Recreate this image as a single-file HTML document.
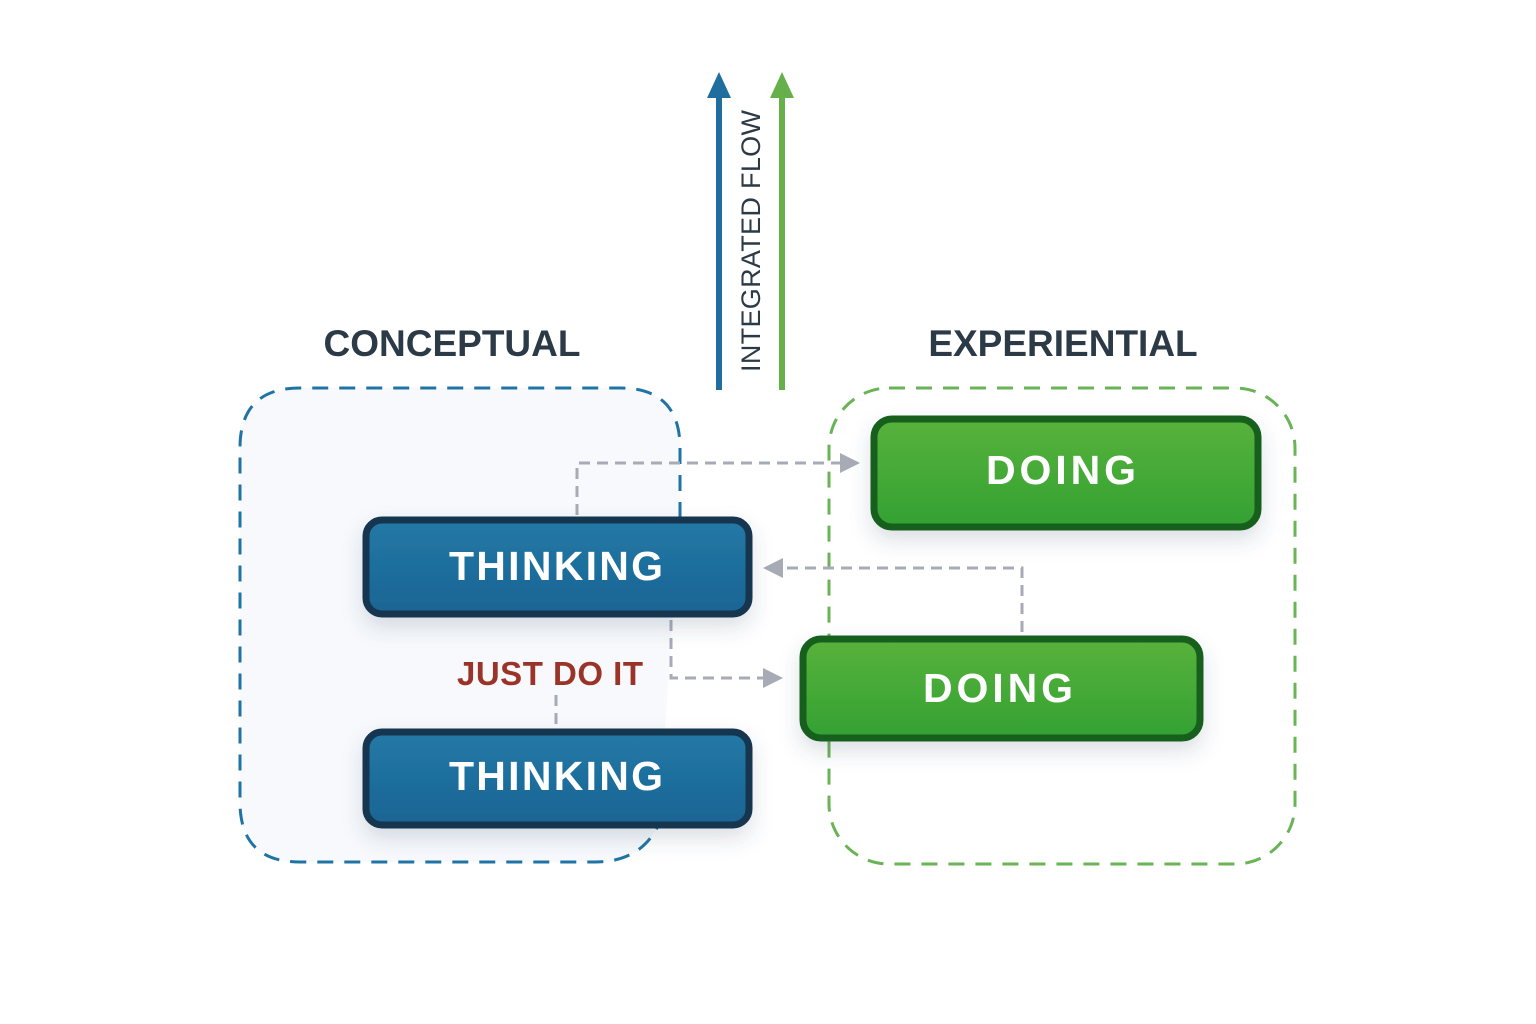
<!DOCTYPE html>
<html><head><meta charset="utf-8"><style>
html,body{margin:0;padding:0;background:#fff;}
svg{display:block;}
text{font-family:"Liberation Sans",sans-serif;font-weight:bold;}
</style></head><body>
<svg width="1536" height="1024" viewBox="0 0 1536 1024" xmlns="http://www.w3.org/2000/svg">
<defs>
<linearGradient id="bg" x1="0" y1="0" x2="0" y2="1"><stop offset="0" stop-color="#2279a6"/><stop offset="1" stop-color="#1b6494"/></linearGradient>
<linearGradient id="gg" x1="0" y1="0" x2="0" y2="1"><stop offset="0" stop-color="#58b23b"/><stop offset="1" stop-color="#33a133"/></linearGradient>
<filter id="sh" x="-20%" y="-30%" width="140%" height="170%"><feDropShadow dx="0" dy="10" stdDeviation="10" flood-color="#40506a" flood-opacity="0.18"/></filter>
</defs>
<rect width="1536" height="1024" fill="#fff"/>
<!-- conceptual region -->
<path d="M680,518 L680,448 Q680,388 620,388 L300,388 Q240,388 240,448 L240,802 Q240,862 300,862 L595,862 Q640,862 658,826 Z" fill="#f7f9fc" stroke="none"/>
<path d="M680,518 L680,448 Q680,388 620,388 L300,388 Q240,388 240,448 L240,802 Q240,862 300,862 L595,862 Q640,862 658,826" fill="none" stroke="#1f74a5" stroke-width="3" stroke-dasharray="16,11"/>
<!-- experiential region -->
<rect x="829" y="388" width="466" height="476" rx="60" fill="none" stroke="#6ab356" stroke-width="3" stroke-dasharray="16,11"/>
<!-- labels -->
<text x="452" y="356" font-size="37" fill="#2b3a46" text-anchor="middle">CONCEPTUAL</text>
<text x="1063" y="356" font-size="37" fill="#2b3a46" text-anchor="middle">EXPERIENTIAL</text>
<!-- arrows -->
<line x1="719" y1="390" x2="719" y2="95" stroke="#1f6e9e" stroke-width="6"/>
<polygon points="707,98 719,72 731,98" fill="#1f6e9e"/>
<line x1="782" y1="390" x2="782" y2="95" stroke="#65b04b" stroke-width="6"/>
<polygon points="770,98 782,72 794,98" fill="#65b04b"/>
<text transform="translate(760,372) rotate(-90)" font-size="27" fill="#2b3a46" style="font-weight:normal" textLength="262">INTEGRATED FLOW</text>
<!-- connectors -->
<g stroke="#a7abb6" stroke-width="3" stroke-dasharray="11,7" fill="none">
<path d="M577,515 L577,463 L842,463"/>
<path d="M1022,632 L1022,568 L782,568"/>
<path d="M671,620 L671,678 L765,678"/>
<path d="M556,695 L556,728"/>
</g>
<polygon points="840,453 860,463 840,473" fill="#a7abb6"/>
<polygon points="783,558 763,568 783,578" fill="#a7abb6"/>
<polygon points="763,668 783,678 763,688" fill="#a7abb6"/>
<!-- boxes -->
<g filter="url(#sh)">
<rect x="366" y="520" width="383" height="94" rx="16" fill="url(#bg)" stroke="#123650" stroke-width="7"/>
<rect x="366" y="732" width="383" height="93" rx="16" fill="url(#bg)" stroke="#123650" stroke-width="7"/>
<rect x="874" y="419" width="384" height="108" rx="18" fill="url(#gg)" stroke="#155e1c" stroke-width="7"/>
<rect x="803" y="639" width="397" height="99" rx="18" fill="url(#gg)" stroke="#155e1c" stroke-width="7"/>
</g>
<text x="556" y="580" font-size="41" fill="#fff" text-anchor="middle" textLength="214">THINKING</text>
<text x="556" y="790" font-size="41" fill="#fff" text-anchor="middle" textLength="214">THINKING</text>
<text x="1061" y="484" font-size="41" fill="#fff" text-anchor="middle" textLength="150">DOING</text>
<text x="998" y="702" font-size="41" fill="#fff" text-anchor="middle" textLength="150">DOING</text>
<text x="550" y="685" font-size="33" fill="#9b3428" text-anchor="middle" textLength="186">JUST DO IT</text>
</svg>
</body></html>
